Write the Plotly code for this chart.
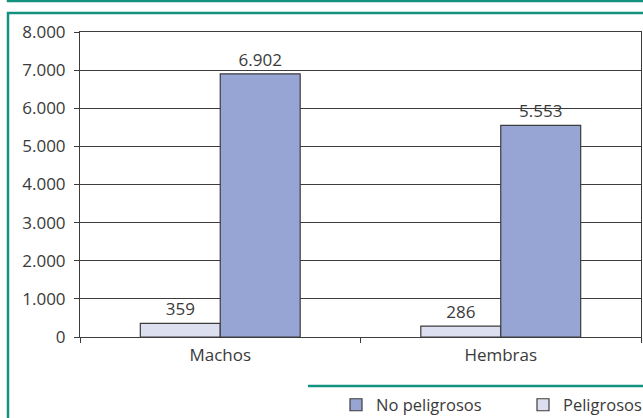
import plotly.graph_objects as go

categories = ["Machos", "Hembras"]
peligrosos = [359, 286]
no_peligrosos = [6902, 5553]
y_ticks = [0, 1000, 2000, 3000, 4000, 5000, 6000, 7000, 8000]
y_tick_labels = ["0", "1.000", "2.000", "3.000", "4.000", "5.000", "6.000", "7.000", "8.000"]

FONT = "Open Sans, Liberation Sans, sans-serif"
TXT = "#3a3a3a"
TEAL = "#12927f"
EDGE = "#3c3c3c"

def fmt(v):
    return f"{v:,}".replace(",", ".")

fig = go.Figure()
fig.add_trace(go.Bar(
    name="Peligrosos", x=categories, y=peligrosos,
    marker=dict(color="#dcdff0", line=dict(color=EDGE, width=1.2)),
    text=[fmt(v) for v in peligrosos], textposition="outside",
    textfont=dict(size=17, color=TXT, family=FONT), cliponaxis=False,
))
fig.add_trace(go.Bar(
    name="No peligrosos", x=categories, y=no_peligrosos,
    marker=dict(color="#97a5d4", line=dict(color=EDGE, width=1.2)),
    text=[fmt(v) for v in no_peligrosos], textposition="outside",
    textfont=dict(size=17, color=TXT, family=FONT), cliponaxis=False,
))

W, H = 643, 418
L, R, T, B = 80, 2, 32, 81
pw, ph = W - L - R, H - T - B

def px(x):
    return (x - L) / pw

def py(y):
    return (H - B - y) / ph

shapes = [
    dict(type="line", xref="paper", yref="paper", x0=px(7), x1=px(643), y0=py(1), y1=py(1), line=dict(color=TEAL, width=2.5)),
    dict(type="line", xref="paper", yref="paper", x0=px(8), x1=px(8), y0=py(-2), y1=py(2), line=dict(color=TEAL, width=2.5)),
    dict(type="line", xref="paper", yref="paper", x0=px(7), x1=px(643), y0=py(13), y1=py(13), line=dict(color=TEAL, width=2.5)),
    dict(type="line", xref="paper", yref="paper", x0=px(8), x1=px(8), y0=py(12), y1=py(420), line=dict(color=TEAL, width=2.5)),
    dict(type="line", xref="paper", yref="paper", x0=px(308), x1=px(643), y0=py(386), y1=py(386), line=dict(color=TEAL, width=2.5)),
]

fig.update_layout(
    width=W, height=H,
    margin=dict(l=L, r=R, t=T, b=B, autoexpand=False),
    paper_bgcolor="white", plot_bgcolor="white",
    barmode="group", bargap=0.43, bargroupgap=0,
    separators=",.",
    font=dict(family=FONT, size=17, color=TXT),
    showlegend=True,
    legend=dict(orientation="h", traceorder="reversed",
                xref="container", yref="container",
                x=336 / W, xanchor="left",
                y=(H - 405) / H, yanchor="middle", font=dict(size=16.5, color=TXT, family=FONT),
                itemwidth=30, entrywidth=142, entrywidthmode="pixels",
                bgcolor="rgba(0,0,0,0)"),
    shapes=shapes,
    xaxis=dict(showline=True, linecolor=EDGE, linewidth=1, mirror=True,
               ticks="outside", tickson="boundaries", ticklen=5, tickcolor=EDGE,
               ticklabelstandoff=3,
               tickfont=dict(size=17, color=TXT, family=FONT)),
    yaxis=dict(range=[0, 8000], tickvals=y_ticks, ticktext=y_tick_labels,
               showline=True, linecolor=EDGE, linewidth=1, mirror=True,
               showgrid=True, gridcolor=EDGE, gridwidth=1,
               ticks="outside", ticklen=5, tickcolor=EDGE, zeroline=False,
               ticklabelstandoff=5,
               tickfont=dict(size=17, color=TXT, family=FONT)),
)

fig.write_html("out.html", config={"displayModeBar": False},
               post_script="document.body.style.margin='0';")
